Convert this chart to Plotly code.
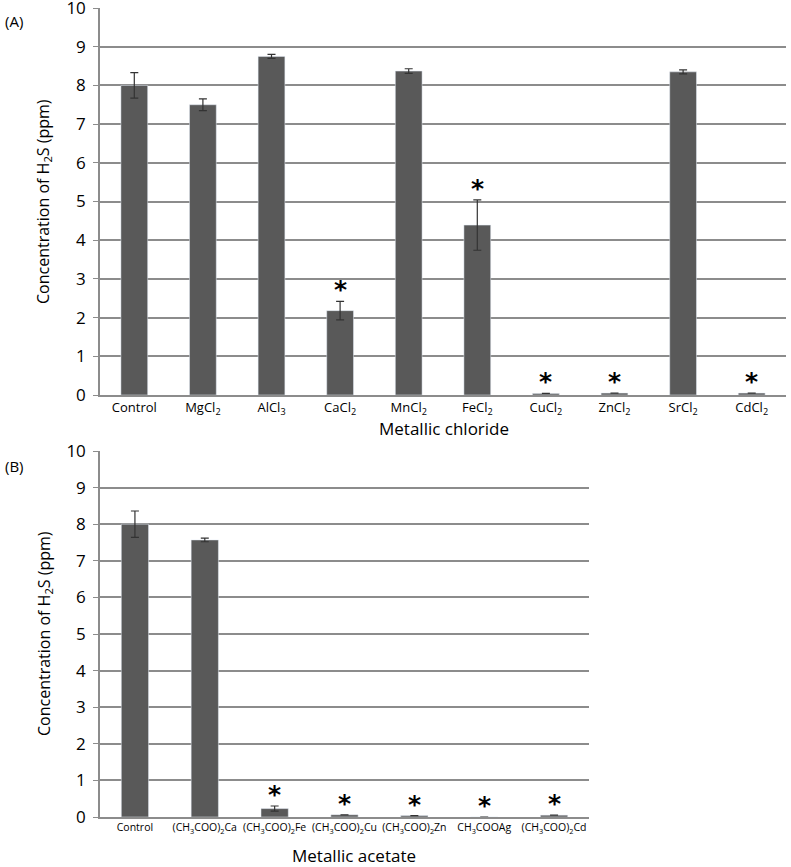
import plotly.graph_objs as go

# (A) metallic chlorides
chlorides = ['Control', 'MgCl<sub>2</sub>', 'AlCl<sub>3</sub>', 'CaCl<sub>2</sub>', 'MnCl<sub>2</sub>',
             'FeCl<sub>2</sub>', 'CuCl<sub>2</sub>', 'ZnCl<sub>2</sub>', 'SrCl<sub>2</sub>', 'CdCl<sub>2</sub>']
chloride_h2s = [8.0, 7.5, 8.75, 2.18, 8.37, 4.39, 0.04, 0.05, 8.35, 0.05]
chloride_err = [0.33, 0.15, 0.05, 0.24, 0.06, 0.65, 0.0, 0.0, 0.05, 0.0]
chloride_sig = [False, False, False, True, False, True, True, True, False, True]

# (B) metallic acetates
acetates = ['Control', '(CH<sub>3</sub>COO)<sub>2</sub>Ca', '(CH<sub>3</sub>COO)<sub>2</sub>Fe',
            '(CH<sub>3</sub>COO)<sub>2</sub>Cu', '(CH<sub>3</sub>COO)<sub>2</sub>Zn', 'CH<sub>3</sub>COOAg',
            '(CH<sub>3</sub>COO)<sub>2</sub>Cd']
acetate_h2s = [8.0, 7.57, 0.23, 0.06, 0.04, 0.0, 0.05]
acetate_err = [0.36, 0.05, 0.07, 0.0, 0.0, 0.0, 0.0]
acetate_sig = [False, False, True, True, True, True, True]

FONT = 'Open Sans, Liberation Sans, sans-serif'
BAR = '#595959'
GRID = '#8c8c8c'
W, H = 791, 867

err_style = dict(type='data', thickness=1.2, width=4, color='#333333')

data = [
    go.Bar(x=chlorides, y=chloride_h2s, error_y=dict(array=chloride_err, **err_style),
           marker=dict(color=BAR), xaxis='x', yaxis='y', showlegend=False),
    go.Bar(x=acetates, y=acetate_h2s, error_y=dict(array=acetate_err, **err_style),
           marker=dict(color=BAR), xaxis='x2', yaxis='y2', showlegend=False),
]

# significance stars above the error bars
notes = []
for cats, vals, errs, sig, xr, yr in [(chlorides, chloride_h2s, chloride_err, chloride_sig, 'x', 'y'),
                                      (acetates, acetate_h2s, acetate_err, acetate_sig, 'x2', 'y2')]:
    for c, v, e, s in zip(cats, vals, errs, sig):
        if s:
            notes.append(dict(x=c, y=v + e, xref=xr, yref=yr, text='<b>*</b>', showarrow=False,
                              yanchor='bottom', yshift=-5,
                              font=dict(family='DejaVu Sans', size=25, color='black')))

# titles and panel labels as paper annotations (pixel positions from the page)
def txt(x, y, text, size, angle=0, anchor='center'):
    return dict(x=x / W, y=1 - y / H, xref='paper', yref='paper', text=text, showarrow=False,
                xanchor=anchor, yanchor='middle', textangle=angle,
                font=dict(family=FONT, size=size, color='black'))

ytitle = 'Concentration of H<sub>2</sub>S (ppm)'
notes += [
    txt(3, 21, '(A)', 15, anchor='left'),
    txt(3, 466, '(B)', 15, anchor='left'),
    txt(44, 202, ytitle, 16, angle=-90),
    txt(44, 634, ytitle, 16, angle=-90),
    txt(444, 428, 'Metallic chloride', 17),
    txt(354, 855, 'Metallic acetate', 17),
]

def yax(domain, anchor):
    return dict(domain=domain, anchor=anchor, range=[0, 10], dtick=1, showgrid=True, automargin=False,
                gridcolor=GRID, gridwidth=1.5, showline=True, linecolor=GRID, linewidth=1.5,
                ticks='outside', ticklen=5, tickcolor=GRID, zeroline=False,
                ticklabeloverflow='allow', ticklabelstandoff=4,
                tickfont=dict(family=FONT, size=17, color='black'))

def xax(domain, anchor, size):
    return dict(domain=domain, anchor=anchor, showline=True, linecolor=GRID, linewidth=1.5, automargin=False,
                ticks='', tickangle=0, ticklabeloverflow='allow', ticklabelstandoff=0,
                tickfont=dict(family=FONT, size=size, color='black'))

layout = go.Layout(
    width=W, height=H,
    margin=dict(l=0, r=0, t=0, b=0),
    paper_bgcolor='white', plot_bgcolor='white',
    bargap=0.61,
    xaxis=xax([100 / W, 786 / W], 'y', 13),
    yaxis=yax([(H - 395) / H, (H - 8) / H], 'x'),
    xaxis2=xax([100 / W, 589 / W], 'y2', 10.5),
    yaxis2=yax([(H - 817) / H, (H - 451) / H], 'x2'),
    annotations=notes,
)

fig = go.Figure(data=data, layout=layout)
# drop the browser's default 8px body margin so the figure fills the window exactly
fig.write_html('out.html', config={'displayModeBar': False},
               post_script="document.body.style.margin='0';")
